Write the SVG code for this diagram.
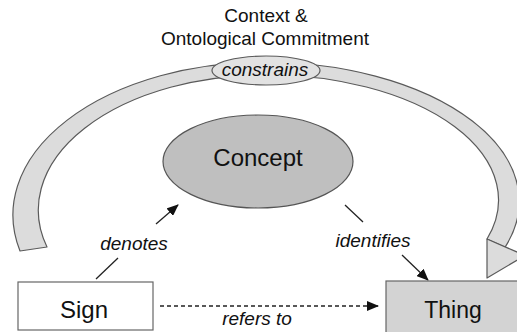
<svg xmlns="http://www.w3.org/2000/svg" width="517" height="332" viewBox="0 0 517 332">
  <style>
    text { font-family: "Liberation Sans", Arial, sans-serif; fill: #111; text-anchor: middle; }
    .title { font-size: 19px; }
    .lbl { font-size: 19px; font-style: italic; }
    .big { font-size: 24px; }
    .band { fill: #dcdcdc; stroke: #5a5a5a; stroke-width: 1.2; stroke-linejoin: round; }
    .line { stroke: #222; stroke-width: 1.3; fill: none; }
    .dash { stroke-dasharray: 4 3; }
  </style>
  <defs>
    <marker id="ah" viewBox="0 0 12 10" refX="11" refY="5" markerWidth="12" markerHeight="10" markerUnits="userSpaceOnUse" orient="auto">
      <path d="M0,0 L12,5 L0,10 z" fill="#111"/>
    </marker>
  </defs>
  <rect width="517" height="332" fill="#fff"/>

  <g id="context">
    <text class="title" x="266" y="22">Context &amp;</text>
    <text class="title" x="265" y="45">Ontological Commitment</text>
  </g>

  <g id="connectors">
    <g id="constrains-arc">
      <path class="band" d="M20,251 A252,153 0 0 1 265,62 A256,139.5 0 0 1 505,247.3 L487,239 A231,125 0 0 0 267,75 A227,135 0 0 0 47,247 Z"/>
      <polygon class="band" points="487,239 525,255.5 487,278"/>
    </g>
    <g id="denotes">
      <line class="line" x1="96" y1="279" x2="118" y2="258"/>
      <line class="line" x1="156" y1="224" x2="178" y2="205" marker-end="url(#ah)"/>
      <text class="lbl" x="134" y="250">denotes</text>
    </g>
    <g id="identifies">
      <line class="line" x1="345" y1="205" x2="363" y2="222"/>
      <line class="line" x1="402" y1="255" x2="428" y2="280" marker-end="url(#ah)"/>
      <text class="lbl" x="373" y="247">identifies</text>
    </g>
    <g id="refers-to">
      <line class="line dash" x1="160" y1="306" x2="378" y2="306" marker-end="url(#ah)"/>
      <text class="lbl" x="257" y="325">refers to</text>
    </g>
  </g>

  <g id="constrains">
    <ellipse cx="266" cy="70.5" rx="54" ry="14.5" fill="#e2e2e2" stroke="#5a5a5a" stroke-width="1.2"/>
    <text class="lbl" x="265" y="76">constrains</text>
  </g>

  <g id="concept">
    <ellipse cx="258" cy="161.5" rx="95" ry="46.5" fill="#bfbfbf" stroke="#555" stroke-width="1.2"/>
    <text class="big" x="258" y="166">Concept</text>
  </g>

  <g id="sign">
    <rect x="18" y="282" width="135" height="48" fill="#fff" stroke="#666" stroke-width="1.2"/>
    <text class="big" x="84" y="318">Sign</text>
  </g>

  <g id="thing">
    <rect x="386" y="281" width="140" height="60" fill="#d3d3d3" stroke="#666" stroke-width="1.2"/>
    <text class="big" x="453" y="318" style="font-size:23px">Thing</text>
  </g>
</svg>
